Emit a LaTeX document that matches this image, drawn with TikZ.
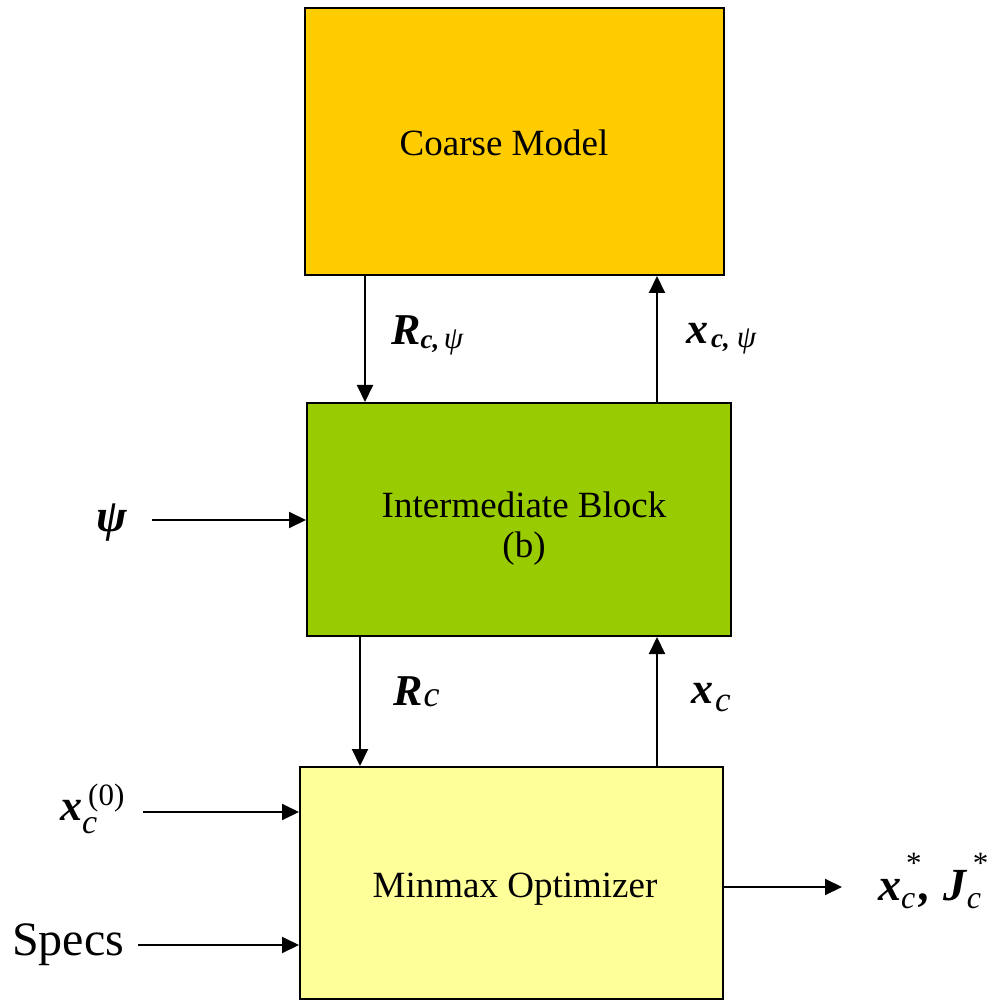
\documentclass[tikz,border=0pt]{standalone}
\usepackage{fontspec}
\setmainfont{Liberation Serif}
\usetikzlibrary{arrows.meta}
\definecolor{coarsec}{HTML}{FFCC00}
\definecolor{interc}{HTML}{99CC00}
\definecolor{minc}{HTML}{FFFF99}
\newcommand\fsz[1]{\fontsize{#1}{#1}\selectfont}
\begin{document}
\begin{tikzpicture}[x=1pt,y=-1pt,
  blk/.style={draw=black,line width=2pt,inner sep=0pt},
  btxt/.style={anchor=base,inner sep=0pt,font=\fsz{37}},
  arr/.style={line width=2pt,-{Triangle[length=17pt,width=16pt]}},
  lab/.style={anchor=base west,inner sep=0pt}]
\path[use as bounding box] (0,0) rectangle (1002,1000);
\fill[white] (0,0) rectangle (1002,1000);
% boxes
\node[blk,fill=coarsec,minimum width=419pt,minimum height=267pt] (coarse) at (514.5,141.5) {};
\node[blk,fill=interc,minimum width=424pt,minimum height=233pt] (inter) at (519,519.5) {};
\node[blk,fill=minc,minimum width=423pt,minimum height=232pt] (minmax) at (511.5,883) {};
% box texts
\node[btxt] (tcoarse) at (504,156) {Coarse Model};
\node[btxt] (tinter1) at (524,517) {Intermediate Block};
\node[btxt] (tinter2) at (524,557) {(b)};
\node[btxt] (tminmax) at (515,897) {Minmax Optimizer};
% helper coordinates
\coordinate (a1) at (365,0);
\coordinate (a2) at (657,0);
\coordinate (a3) at (360,0);
\coordinate (psiS) at (152,520);
\coordinate (x0S) at (143,812);
\coordinate (specS) at (138,945);
\coordinate (outE) at (842,887);
% vertical connectors
\draw[arr] (coarse.south -| a1) -- (inter.north -| a1);
\draw[arr] (inter.north -| a2) -- (coarse.south -| a2);
\draw[arr] (inter.south -| a3) -- (minmax.north -| a3);
\draw[arr] (minmax.north -| a2) -- (inter.south -| a2);
% side connectors
\draw[arr] (psiS) -- (inter.west |- psiS);
\draw[arr] (x0S) -- (minmax.west |- x0S);
\draw[arr] (specS) -- (minmax.west |- specS);
\draw[arr] (minmax.east |- outE) -- (outE);
% labels
\node[lab] (lRcpsi) at (391,345) {{\fsz{44}\bfseries\itshape R}\raisebox{-4pt}{\fsz{27}\bfseries\itshape c,\,{\mdseries\fsz{31}ψ}}};
\node[lab] (lxcpsi) at (686,344) {{\fsz{44}\bfseries\itshape x}\kern3pt\raisebox{-4pt}{\fsz{27}\bfseries\itshape c,\kern7pt{\mdseries\fsz{31}ψ}}};
\node[lab] (lRc) at (393,705) {{\fsz{44}\bfseries\itshape R}\kern1pt\raisebox{-1pt}{\fsz{36}\itshape c}};
\node[lab] (lxc) at (691,703) {{\fsz{44}\bfseries\itshape x}\kern2pt\raisebox{-8pt}{\fsz{35}\itshape c}};
\node[lab] (lpsi) at (96,531) {\fsz{46}\bfseries\itshape ψ};
\node[lab] (lx0) at (60,820) {{\fsz{44}\bfseries\itshape x}\makebox[0pt][l]{\kern6pt\raisebox{15pt}{\fsz{31}(0)}}\raisebox{-13pt}{\fsz{34}\itshape c}};
\node[lab] (lspecs) at (12,955) {\fsz{48}Specs};
\node[lab] (lout) at (878,900) {{\fsz{46}\bfseries\itshape x}\makebox[0pt][l]{\kern5pt\raisebox{27pt}{\fsz{31}*}}\raisebox{-8pt}{\fsz{32}\itshape c}\kern4pt{\fsz{46}\bfseries\itshape ,}\kern13pt{\fsz{46}\bfseries\itshape J}\makebox[0pt][l]{\kern6pt\raisebox{27pt}{\fsz{31}*}}\raisebox{-8pt}{\fsz{32}\itshape c}};
\end{tikzpicture}
\end{document}
